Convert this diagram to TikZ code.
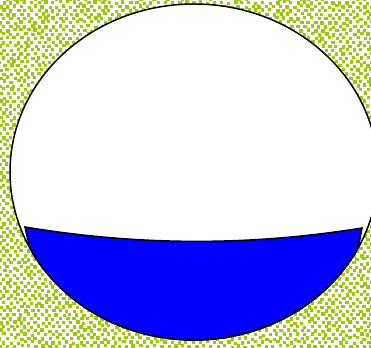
\documentclass[tikz,border=0pt]{standalone}
\usetikzlibrary{calc}
\definecolor{moss}{RGB}{153,204,0}
\tikzset{
  rim/.style={draw=black, line width=1.5pt},
  speck/.style={fill=moss}
}
\begin{document}
\begin{tikzpicture}[x=1pt,y=1pt]
\useasboundingbox (0,0) rectangle (371,347);
\clip (0,0) rectangle (371,347);
% speckled background
\pgfmathsetseed{7}
\foreach \j in {0,...,88} {
  \foreach \i in {0,...,53} {
    \pgfmathsetmacro{\px}{\i*7+mod(\j,2)*3.5+rand*0.9-1}
    \pgfmathsetmacro{\py}{\j*3.95+rand*0.9-1}
    \fill[speck] (\px,\py) rectangle ++(3.3,3.3);
  }
}
% ball
\filldraw[fill=white, rim] (194,175) ellipse [x radius=184, y radius=168];
% liquid
\filldraw[fill=blue, rim] (25,120) .. controls (140,101) and (250,101) .. (362,119)
  .. controls (358,97) .. (347,82)
  arc[start angle=-33.6, end angle=-146.4, x radius=184, y radius=168]
  .. controls (30,97) .. cycle;
\end{tikzpicture}
\end{document}
